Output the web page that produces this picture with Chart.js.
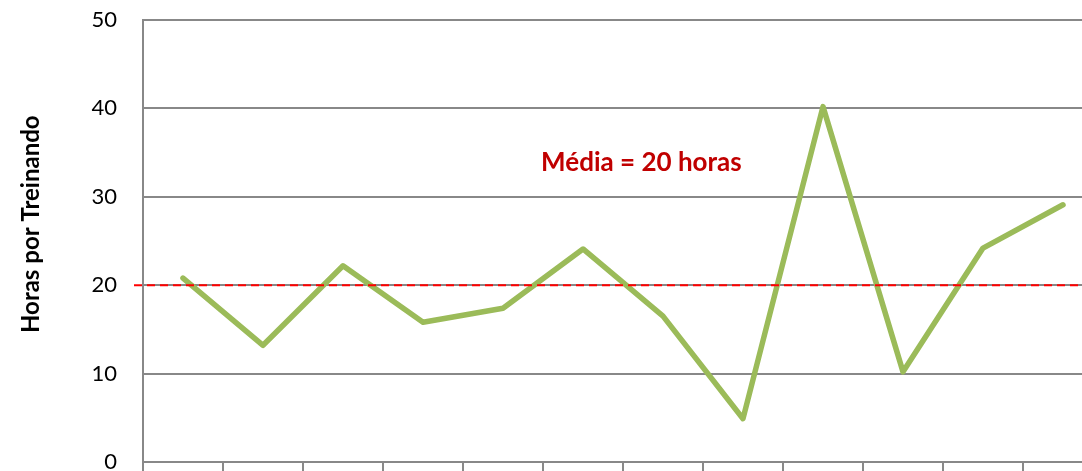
<!DOCTYPE html>
<html>
<head>
<meta charset="utf-8">
<script src="https://cdn.jsdelivr.net/npm/chart.js@4.4.1/dist/chart.umd.min.js"></script>
<style>
  html, body { margin: 0; padding: 0; background: #ffffff; overflow: hidden; }
  #wrap { position: relative; width: 1112px; height: 510px; }
</style>
</head>
<body>
<div id="wrap"><canvas id="chart" width="1112" height="510"></canvas></div>
<script>
// Monthly training hours per trainee
const categorias = ['1', '2', '3', '4', '5', '6', '7', '8', '9', '10', '11', '12'];
const horasPorTreinando = [20.8, 13.2, 22.2, 15.8, 17.4, 24.1, 16.5, 4.9, 40.2, 10.2, 24.2, 29.1];
const yTicks = [0, 10, 20, 30, 40, 50];
const mediaHoras = 20;
const mediaRotulo = 'Média = 20 horas';
const tituloEixoY = 'Horas por Treinando';

const FONT = 'Lato, "Open Sans", sans-serif';

// Dashed reference line for the mean, its caption and the y-axis title
const mediaPlugin = {
  id: 'mediaLine',
  afterDatasetsDraw(chart) {
    const { ctx, chartArea, scales } = chart;
    const y = scales.y.getPixelForValue(mediaHoras);
    ctx.save();
    ctx.strokeStyle = '#ff0000';
    ctx.lineWidth = 2;
    ctx.setLineDash([8, 5]);
    ctx.beginPath();
    ctx.moveTo(chartArea.left - 9, y);
    ctx.lineTo(chart.width, y);
    ctx.stroke();
    ctx.restore();
  },
  afterDraw(chart) {
    const { ctx, scales } = chart;
    const x = scales.x.getPixelForValue(5.73);
    const y = scales.y.getPixelForValue(33.9);
    ctx.save();
    ctx.fillStyle = '#c00000';
    ctx.font = 'bold 26px ' + FONT;
    ctx.textAlign = 'center';
    ctx.textBaseline = 'middle';
    ctx.fillText(mediaRotulo, x, y);
    ctx.restore();

    // rotated axis title
    ctx.save();
    ctx.translate(31, scales.y.getPixelForValue(26.9));
    ctx.rotate(-Math.PI / 2);
    ctx.fillStyle = '#000000';
    ctx.font = 'bold 24px ' + FONT;
    ctx.textAlign = 'center';
    ctx.textBaseline = 'middle';
    ctx.fillText(tituloEixoY, 0, 0);
    ctx.restore();
  }
};

new Chart(document.getElementById('chart'), {
  type: 'line',
  data: {
    labels: categorias,
    datasets: [{
      data: horasPorTreinando,
      borderColor: '#9bbb59',
      borderWidth: 5.5,
      borderCapStyle: 'round',
      borderJoinStyle: 'round',
      pointRadius: 0,
      tension: 0,
      fill: false
    }]
  },
  options: {
    responsive: false,
    animation: false,
    layout: { padding: { top: 20, right: 9, left: 0, bottom: 0 } },
    plugins: { legend: { display: false }, tooltip: { enabled: false } },
    scales: {
      x: {
        offset: true,
        grid: {
          offset: true,
          drawOnChartArea: false,
          drawTicks: true,
          tickLength: 14,
          color: '#888888',
          lineWidth: 2
        },
        border: { display: true, color: '#888888', width: 2 },
        ticks: { display: false },
        afterFit(scale) { scale.height = 48; }
      },
      y: {
        min: 0,
        max: 50,
        afterBuildTicks(scale) { scale.ticks = yTicks.map(v => ({ value: v })); },
        grid: { color: '#888888', lineWidth: 2, drawTicks: false },
        border: { display: true, color: '#888888', width: 2 },
        ticks: {
          color: '#000000',
          padding: 26,
          font: { family: FONT, size: 22 }
        },
        afterFit(scale) {
          scale.width = 143;
          scale.paddingTop = 0;
          scale.paddingBottom = 0;
        }
      }
    }
  },
  plugins: [mediaPlugin]
});
</script>
</body>
</html>
